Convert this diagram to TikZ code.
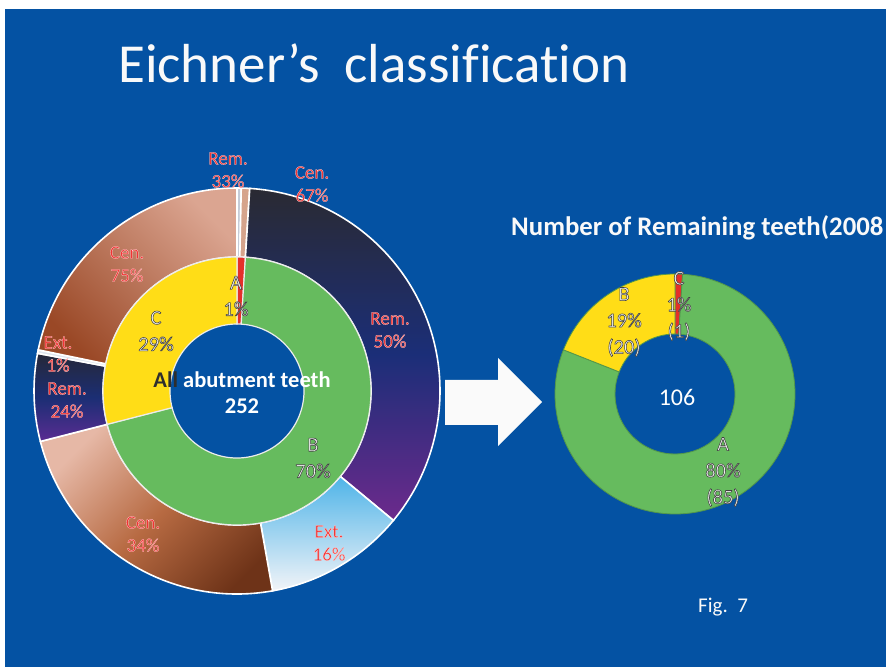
\documentclass[tikz,border=0pt]{standalone}
\usepackage{fontspec}
\setmainfont{Carlito}[Ligatures=NoCommon]
\definecolor{bg}{HTML}{0452A3}
\definecolor{ringgreen}{HTML}{66BB5E}
\definecolor{ringyellow}{HTML}{FFDD17}
\definecolor{ringred}{HTML}{E4302A}
\definecolor{lblred}{HTML}{F23434}
\definecolor{lblgray}{HTML}{F4F4F4}
\definecolor{aremfill}{HTML}{C5CCD8}
\definecolor{acenfill}{HTML}{D6A48C}
\definecolor{remtop}{HTML}{2A2A32}
\definecolor{remmid}{HTML}{1B2E78}
\definecolor{rembot}{HTML}{6C2A8C}
\definecolor{exttop}{HTML}{4FB4E8}
\definecolor{extbot}{HTML}{F2F4F8}
\definecolor{bcentop}{HTML}{E6B8A6}
\definecolor{bcenmid}{HTML}{B76A42}
\definecolor{bcenbot}{HTML}{6E3318}
\definecolor{cremtop}{HTML}{262838}
\definecolor{cremmid}{HTML}{1B2E74}
\definecolor{crembot}{HTML}{5A2C92}
\definecolor{cextfill}{HTML}{DFE6EF}
\definecolor{ccentop}{HTML}{DBA591}
\definecolor{ccenbot}{HTML}{9A4826}
\definecolor{alldark}{HTML}{2E2E2E}
\newcommand{\annseg}[7]{%
  \path[#1] ([shift={(#2,#3)}]#4:#7) arc[start angle=#4,end angle=#5,radius=#7]
    -- ([shift={(#2,#3)}]#5:#6) arc[start angle=#5,end angle=#4,radius=#6] -- cycle;}
% outlined text via PDF text render mode (fill + stroke)
\newcommand{\outlon}[2]{\special{pdf:literal direct 2 Tr #1 w #2 RG}}
\newcommand{\outloff}{\special{pdf:literal direct 0 Tr}}
\newcommand{\redtxt}[1]{\outlon{0.25}{1 0.88 0.88}#1\outloff}
\newcommand{\graytxt}[1]{\outlon{0.55}{0.25 0.25 0.25}#1\outloff}
\tikzset{
  outerlbl/.style={font=\fontsize{19}{23}\selectfont, align=center, inner sep=0pt, text=lblred},
  innerlbl/.style={font=\fontsize{20.5}{26.5}\selectfont, align=center, inner sep=0pt, text=lblgray},
  outerseg/.style={draw=white, line width=1.6pt},
  innerseg/.style={draw=white!85!gray, line width=1.2pt},
  rightseg/.style={draw=ringgreen!80!black, line width=0.8pt},
}
\begin{document}
\begin{tikzpicture}[x=1pt,y=1pt]
\useasboundingbox (0,0) rectangle (886,670);
\fill[white] (0,0) rectangle (886,670);
\fill[bg] (5,3) rectangle (886,661);

% title
\node[anchor=base west, inner sep=0pt, text=white!95!gray, font=\fontsize{55}{60}\selectfont] (title) at (118,587) {Eichner’s\ \ classification};

% ---------- left doughnut: outer ring ----------
\annseg{outerseg, fill=aremfill}{237}{279}{90}{88.8}{134}{203}
\annseg{outerseg, fill=acenfill}{237}{279}{88.8}{86.4}{134}{203}
\annseg{outerseg, top color=remtop, bottom color=rembot, middle color=remmid}{237}{279}{86.4}{-39.6}{134}{203}
\annseg{outerseg, top color=exttop, bottom color=extbot}{237}{279}{-39.6}{-79.9}{134}{203}
\annseg{outerseg, top color=bcentop, bottom color=bcenbot, middle color=bcenmid, shading angle=45}{237}{279}{-79.9}{-165.6}{134}{203}
\annseg{outerseg, top color=cremtop, bottom color=crembot, middle color=cremmid}{237}{279}{194.4}{169.3}{134}{203}
\annseg{outerseg, fill=cextfill}{237}{279}{169.3}{168.3}{134}{203}
\annseg{outerseg, top color=ccentop, bottom color=ccenbot, shading angle=-45}{237}{279}{168.3}{90}{134}{203}

% ---------- left doughnut: inner ring ----------
\annseg{innerseg, fill=ringred}{237}{279}{90}{86.4}{67}{134}
\annseg{innerseg, fill=ringgreen}{237}{279}{86.4}{-165.6}{67}{134}
\annseg{innerseg, fill=ringyellow}{237}{279}{194.4}{90}{67}{134}

% ---------- right doughnut ----------
\annseg{rightseg, fill=ringred}{675}{276}{90}{86.4}{60}{120}
\annseg{rightseg, fill=ringgreen}{675}{276}{86.4}{-201.6}{60}{120}
\annseg{rightseg, fill=ringyellow}{675}{276}{158.4}{90}{60}{120}

% ---------- arrow ----------
\fill[white!96!gray] (445,245) -- (498,245) -- (498,224) -- (542,268) -- (498,312) -- (498,290) -- (445,290) -- cycle;

% ---------- outer labels ----------
\node[outerlbl] (l1) at (228,500) {\redtxt{Rem.}\\\redtxt{33\%}};
\node[outerlbl] (l2) at (312,486) {\redtxt{Cen.}\\\redtxt{67\%}};
\node[outerlbl] (l3) at (127,406) {\redtxt{Cen.}\\\redtxt{75\%}};
\node[outerlbl] (l4) at (390,340) {\redtxt{Rem.}\\\redtxt{50\%}};
\node[outerlbl] (l5) at (58,316) {\redtxt{Ext.}\\\redtxt{1\%}};
\node[outerlbl] (l6) at (67,270) {\redtxt{Rem.}\\\redtxt{24\%}};
\node[outerlbl] (l7) at (143,136) {\redtxt{Cen.}\\\redtxt{34\%}};
\node[outerlbl] (l8) at (329,127) {\redtxt{Ext.}\\\redtxt{16\%}};

% ---------- inner labels ----------
\node[innerlbl] (i1) at (236,374) {\graytxt{A}\\\graytxt{1\%}};
\node[innerlbl] (i2) at (156,339) {\graytxt{C}\\\graytxt{29\%}};
\node[innerlbl] (i3) at (313,212) {\graytxt{B}\\\graytxt{70\%}};
\node[font=\bfseries\fontsize{22.5}{26}\selectfont, align=center, inner sep=0pt, text=white] (center) at (242,277) {{\color{alldark}All} abutment teeth\\252};

% ---------- right labels ----------
\node[anchor=base west, inner sep=0pt, text=white!95!gray, font=\bfseries\fontsize{26.8}{30}\selectfont] (rtitle) at (511,434) {Number of Remaining teeth(2008};
\node[innerlbl] (r1) at (679,364) {\graytxt{C}\\\graytxt{1\%}\\\graytxt{(1)}};
\node[innerlbl] (r2) at (624,348) {\graytxt{B}\\\graytxt{19\%}\\\graytxt{(20)}};
\node[innerlbl] (r3) at (723,198) {\graytxt{A}\\\graytxt{80\%}\\\graytxt{(85)}};
\node[inner sep=0pt, text=white, font=\fontsize{24}{28}\selectfont] (total) at (677,273) {106};

\node[anchor=base west, inner sep=0pt, text=white!95!gray, font=\fontsize{21}{24}\selectfont] (fig) at (698,58) {Fig.\ \ 7};
\end{tikzpicture}
\end{document}
